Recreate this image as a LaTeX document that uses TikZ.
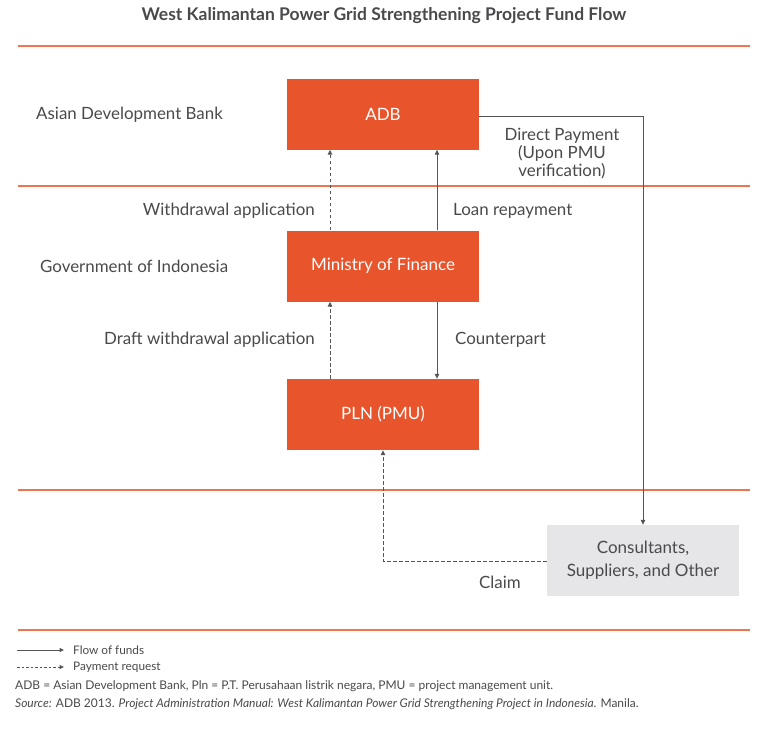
\documentclass[tikz,border=0pt]{standalone}
\usepackage{fontspec}
\setmainfont{Lato}
\usetikzlibrary{arrows.meta}
\definecolor{orng}{HTML}{E8542B}
\definecolor{rule}{HTML}{EE7550}
\definecolor{txt}{HTML}{4A4A4C}
\definecolor{ln}{HTML}{555558}
\definecolor{gbox}{HTML}{E6E6E8}
\begin{document}
\begin{tikzpicture}[x=1pt,y=-1pt,
  obox/.style={fill=orng,draw=none,minimum width=192pt,minimum height=71pt,inner sep=0pt,text=white,font=\fontsize{17}{20}\selectfont},
  gybox/.style={fill=gbox,draw=none,minimum width=192pt,minimum height=71pt,inner sep=0pt,text=txt,align=center,font=\fontsize{17}{23}\selectfont},
  lbl/.style={text=txt,font=\fontsize{16.9}{18}\selectfont,inner sep=0pt},
  sep/.style={draw=rule,line width=1.1pt},
  flow/.style={draw=ln,line width=1pt,-{Triangle[length=5pt,width=4.5pt]}},
  req/.style={draw=ln,line width=1pt,dash pattern=on 3.5pt off 2.5pt,-{Triangle[length=5pt,width=4.5pt]}},
  legtxt/.style={text=txt,font=\fontsize{11.8}{13}\selectfont,inner sep=0pt,anchor=west},
  foottxt/.style={text=txt,font=\fontsize{12}{13}\selectfont,inner sep=0pt,anchor=west}
]
\useasboundingbox (0,0) rectangle (768,734);
\fill[white] (0,0) rectangle (768,734);
% title
\node[text=txt,font=\fontsize{17.5}{20}\selectfont\bfseries,inner sep=0pt] (title) at (384,16) {West Kalimantan Power Grid Strengthening Project Fund Flow};
% separators
\coordinate (s1a) at (18,46); \coordinate (s1b) at (750,46);
\coordinate (s2a) at (18,186); \coordinate (s2b) at (750,186);
\coordinate (s3a) at (18,490); \coordinate (s3b) at (750,490);
\coordinate (s4a) at (18,630); \coordinate (s4b) at (750,630);
\draw[sep] (s1a) -- (s1b);
\draw[sep] (s2a) -- (s2b);
\draw[sep] (s3a) -- (s3b);
\draw[sep] (s4a) -- (s4b);
% boxes
\node[obox] (adb) at (383,114) {ADB};
\node[obox] (mof) at (383,266) {Ministry of Finance};
\node[obox] (pln) at (383,414.5) {PLN (PMU)};
\node[gybox] (cons) at (643,560.5) {Consultants,\\Suppliers, and Other};
% row labels
\node[lbl,anchor=west] (ladb) at (36,114.5) {Asian Development Bank};
\node[lbl,anchor=west] (lgoi) at (40,266) {Government of Indonesia};
% connectors
\draw[req] (mof.north -| 330,0) -- (adb.south -| 330,0);
\draw[req] (pln.north -| 330,0) -- (mof.south -| 330,0);
\draw[flow] (mof.north -| 437,0) -- (adb.south -| 437,0);
\draw[flow] (mof.south -| 437,0) -- (pln.north -| 437,0);
\coordinate (dpc) at (643,116);
\draw[flow] (adb.east |- dpc) -- (dpc) -- (cons.north);
\coordinate (clc) at (383,561);
\draw[req] (cons.west |- clc) -- (clc) -- (pln.south);
% arrow labels
\node[lbl,anchor=east] (lwd) at (315,211) {Withdrawal application};
\node[lbl,anchor=east] (ldwd) at (315,340) {Draft withdrawal application};
\node[lbl,anchor=west] (llr) at (453,211) {Loan repayment};
\node[lbl,anchor=west] (lcp) at (455,340) {Counterpart};
\node[lbl,align=center,font=\fontsize{16.9}{18}\selectfont] (ldp) at (562,153.5) {Direct Payment\\(Upon PMU\\verification)};
\node[lbl] (lcl) at (500,582) {Claim};
% legend
\coordinate (l1a) at (17,650); \coordinate (l1b) at (64,650);
\coordinate (l2a) at (17,667); \coordinate (l2b) at (64,667);
\draw[draw=ln,line width=1pt,-{Triangle[length=4.5pt,width=4pt]}] (l1a) -- (l1b);
\draw[draw=ln,line width=1pt,dash pattern=on 2.5pt off 2pt,-{Triangle[length=4.5pt,width=4pt]}] (l2a) -- (l2b);
\node[legtxt] (lf) at (73,650) {Flow of funds};
\node[legtxt] (lp) at (73,667) {Payment request};
\node[foottxt] (abbr) at (15,686) {ADB = Asian Development Bank, Pln = P.T. Perusahaan listrik negara, PMU = project management unit.};
\node[foottxt] (src) at (15,704) {\textit{Source:} ADB 2013. \textit{Project Administration Manual: West Kalimantan Power Grid Strengthening Project in Indonesia}. Manila.};
\end{tikzpicture}
\end{document}
